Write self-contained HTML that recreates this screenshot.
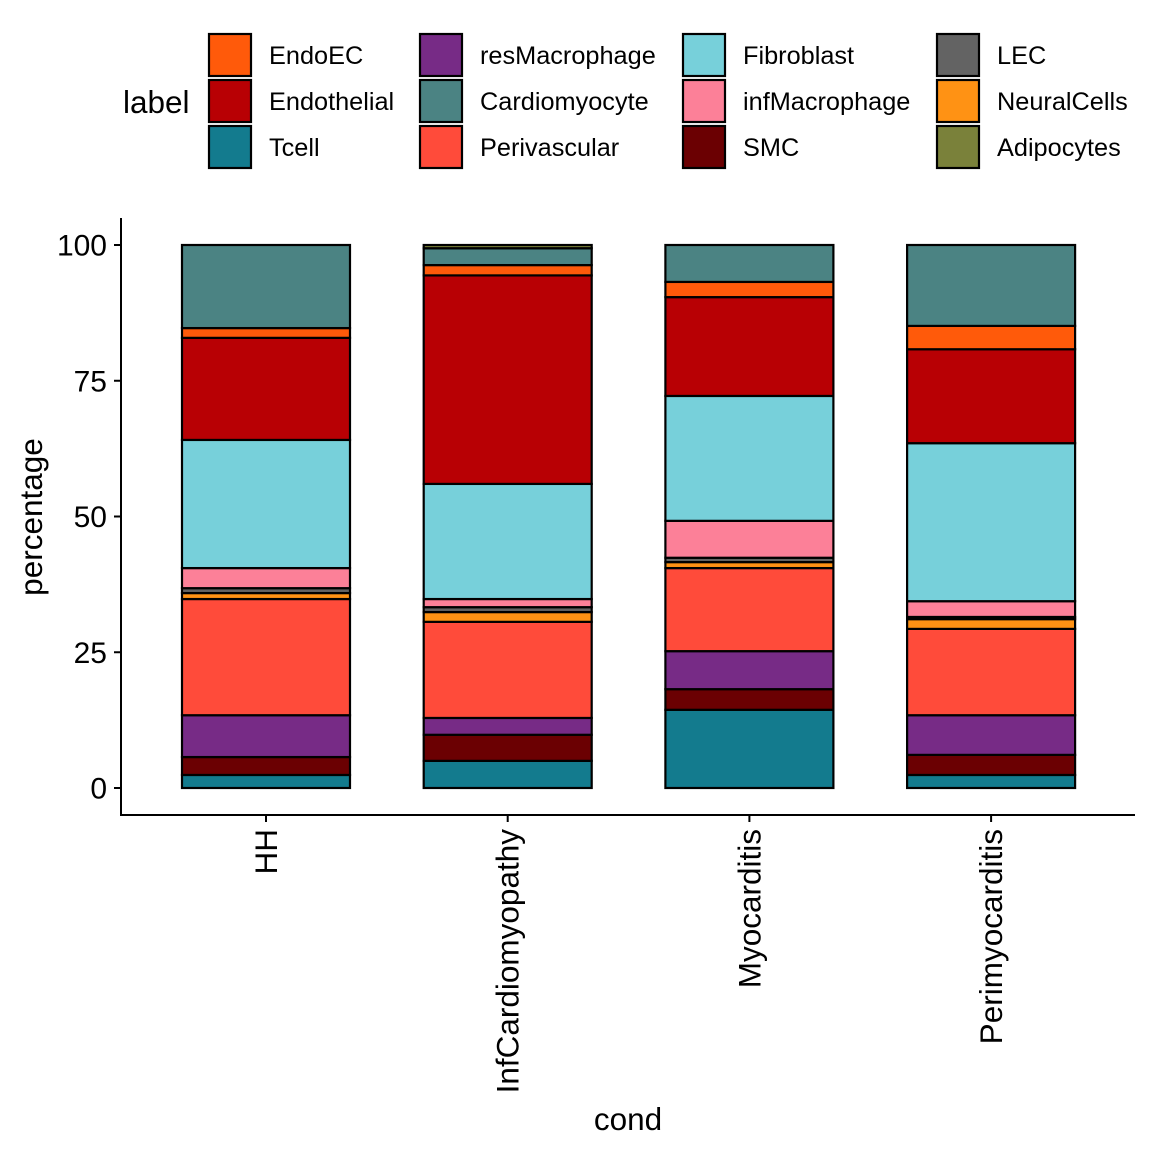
<!DOCTYPE html>
<html><head><meta charset="utf-8"><style>
body{margin:0;background:#fff;}
svg text{font-family:"Liberation Sans",Arial,sans-serif;fill:#000;}
</style></head><body>
<svg id="chart" width="1152" height="1152" viewBox="0 0 1152 1152">
<rect width="1152" height="1152" fill="#fff"/>
<g id="legend"></g>
<g id="bars"></g>
<g id="axes"></g>
</svg>
<script>
const categories = ["HH","InfCardiomyopathy","Myocarditis","Perimyocarditis"];
// stack order bottom to top
const stackOrder = ["Tcell","SMC","resMacrophage","Perivascular","NeuralCells","LEC","infMacrophage","Fibroblast","Endothelial","EndoEC","Cardiomyocyte","Adipocytes"];
const Tcell = [2.4, 5.0, 14.4, 2.4];
const SMC = [3.3, 4.8, 3.8, 3.7];
const resMacrophage = [7.7, 3.1, 7.0, 7.3];
const Perivascular = [21.4, 17.7, 15.3, 15.9];
const Adipocytes = [0.0, 0.6, 0.0, 0.0];
const NeuralCells = [1.1, 1.8, 1.1, 1.8];
const LEC = [0.9, 0.9, 0.8, 0.4];
const infMacrophage = [3.7, 1.5, 6.8, 2.9];
const Fibroblast = [23.6, 21.2, 23.0, 29.1];
const Endothelial = [18.8, 38.4, 18.2, 17.3];
const EndoEC = [1.8, 1.9, 2.8, 4.3];
const Cardiomyocyte = [15.3, 3.1, 6.8, 14.9];
const yTicks = [0,25,50,75,100];
const legendLabels = ["EndoEC","Endothelial","Tcell","resMacrophage","Cardiomyocyte","Perivascular","Fibroblast","infMacrophage","SMC","LEC","NeuralCells","Adipocytes"];

const series = {Tcell,SMC,resMacrophage,Perivascular,Adipocytes,NeuralCells,LEC,infMacrophage,Fibroblast,Endothelial,EndoEC,Cardiomyocyte};
const colors = {EndoEC:"#FF5A0A",Endothelial:"#B80004",Tcell:"#137B8E",resMacrophage:"#772B86",Cardiomyocyte:"#4B8383",Perivascular:"#FF4B3A",Fibroblast:"#77D0DA",infMacrophage:"#FC8098",SMC:"#6B0002",LEC:"#636363",NeuralCells:"#FF9214",Adipocytes:"#7A813A"};
const NS="http://www.w3.org/2000/svg";
function el(t,a,p){const e=document.createElementNS(NS,t);for(const k in a)e.setAttribute(k,a[k]);p.appendChild(e);return e;}
const y0=788, y100=245;
const yScale=v=>y0+(y100-y0)*v/100;
const xCenters0=266, step=241.7, bw=168;
const xScale=i=>xCenters0+step*i;

const bars=document.getElementById('bars');
categories.forEach((c,i)=>{
  let cum=0;
  const g=el('g',{},bars);
  
  
  stackOrder.forEach(s=>{
    const v=series[s][i];
    const yTop=yScale(cum+v), yBot=yScale(cum);
    cum+=v;
    if(v<=0) return;
    const r=el('rect',{x:xScale(i)-bw/2,y:yTop,width:bw,height:yBot-yTop,fill:colors[s],stroke:'#000','stroke-width':2.2},g);
    
    
  });
});

const axes=document.getElementById('axes');
const yl=el('line',{x1:121,y1:218,x2:121,y2:816,stroke:'#000','stroke-width':2},axes);

const xl=el('line',{x1:120,y1:815,x2:1135,y2:815,stroke:'#000','stroke-width':2},axes);

yTicks.forEach(t=>{
  const y=yScale(t);
  const tk=el('line',{x1:114,y1:y,x2:121,y2:y,stroke:'#000','stroke-width':2},axes);
  
  const tx=el('text',{x:107,y:y+10.5,'text-anchor':'end','font-size':30,fill:'#000'},axes);
  tx.textContent=t;
  
});
categories.forEach((c,i)=>{
  const x=xScale(i);
  const tk=el('line',{x1:x,y1:815,x2:x,y2:822,stroke:'#000','stroke-width':2},axes);
  
  const tx=el('text',{x:0,y:0,'text-anchor':'end','font-size':31.5,transform:`translate(${x+11},829) rotate(-90)`},axes);
  tx.textContent=c;
  
});
const yt=el('text',{x:0,y:0,'text-anchor':'middle','font-size':31.5,transform:'translate(42,517) rotate(-90)'},axes);
yt.textContent='percentage';
const xt=el('text',{x:628,y:1130,'text-anchor':'middle','font-size':31.5},axes);
xt.textContent='cond';

const leg=document.getElementById('legend');
const lt=el('text',{x:123,y:113,'font-size':31.5},leg);
lt.textContent='label';
const colX=[209,420,683,937];
legendLabels.forEach((l,k)=>{
  const col=Math.floor(k/3), row=k%3;
  const x=colX[col], y=34+row*46;
  const g=el('g',{},leg);
  
  
  el('rect',{x:x,y:y,width:42,height:42,fill:colors[l],stroke:'#000','stroke-width':2.2},g);
  const t=el('text',{x:x+60,y:y+30,'font-size':25.3},g);
  t.textContent=l;
});
</script>
</body></html>
